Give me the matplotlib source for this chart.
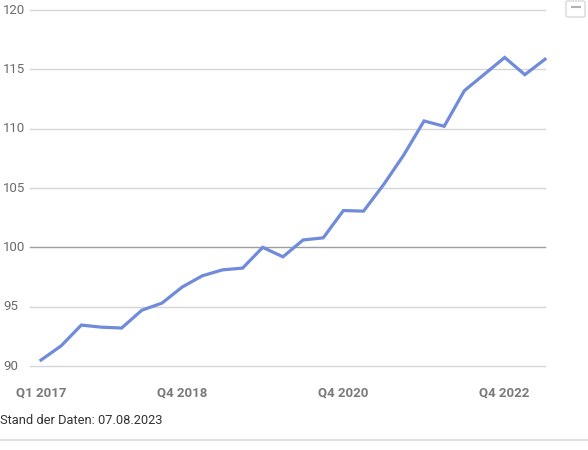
import matplotlib
matplotlib.use("Agg")
import matplotlib.pyplot as plt
import matplotlib.transforms as mtransforms
from matplotlib.patches import FancyBboxPatch
from matplotlib.lines import Line2D

# quarterly index values, Q1 2017 .. Q2 2023
quarters = [f"Q{q} {y}" for y in range(2017, 2024) for q in range(1, 5)][:26]
values = [90.5, 91.7, 93.45, 93.27, 93.2, 94.7, 95.3, 96.65, 97.6, 98.1,
          98.25, 100.0, 99.2, 100.62, 100.8, 103.1, 103.05, 105.3, 107.8,
          110.65, 110.2, 113.2, 114.6, 116.0, 114.55, 115.85]
tick_labels = ["Q1 2017", "Q4 2018", "Q4 2020", "Q4 2022"]
y_ticks = [90, 95, 100, 105, 110, 115, 120]

W, H = 588, 450
fig = plt.figure(figsize=(W / 100, H / 100), dpi=100)
plt.rcParams['font.family'] = ['Roboto', 'DejaVu Sans']

# axes placed in pixel terms
left, right, top, bottom = 30, 545, 10, 366
ax = fig.add_axes([left / W, 1 - bottom / H, (right - left) / W, (bottom - top) / H])

x = list(range(len(values)))
ax.plot(x, values, color="#6f8bd9", linewidth=2.3, solid_joinstyle="miter",
        clip_on=False, zorder=3)

px_per_q = (545 - 41) / 25
ax.set_xlim(-(41 - left) / px_per_q, 25)
ax.set_ylim(90, 120)

for v in y_ticks:
    col = "#9e9e9e" if v == 100 else "#d6d6d6"
    ax.axhline(v, color=col, linewidth=1.0, zorder=1, clip_on=False)

# y labels at the left edge of the figure
trans = mtransforms.blended_transform_factory(fig.transFigure, ax.transData)
for v in y_ticks:
    ax.text(3 / W, v, str(v), transform=trans, ha="left", va="center",
            fontsize=9.5, color="#6b6b6b")

ax.set_yticks([])
ax.set_xticks([quarters.index(t) for t in tick_labels])
ax.set_xticklabels(tick_labels, fontsize=9.5, color="#7a7a7a", fontweight="bold")
ax.tick_params(axis="x", length=0, pad=15)
for s in ax.spines.values():
    s.set_visible(False)

fig.text(0 / W, 1 - 421 / H, "Stand der Daten: 07.08.2023", ha="left", va="center",
         fontsize=9.3, color="#333333")
fig.add_artist(Line2D([0, 1], [1 - 440 / H] * 2, color="#e0e0e0", linewidth=1.5,
                      transform=fig.transFigure))

# small collapse button top right
btn = FancyBboxPatch((566 / W, 1 - 17 / H), 19 / W, 16 / H,
                     boxstyle="round,pad=0,rounding_size=0.003",
                     transform=fig.transFigure, facecolor="white",
                     edgecolor="#d0d0d0", linewidth=0.8)
fig.add_artist(btn)
fig.add_artist(Line2D([572 / W, 580 / W], [1 - 7 / H] * 2, color="#b0b0b0",
                      linewidth=1.5, transform=fig.transFigure))

fig.savefig("out.png", dpi=100)
